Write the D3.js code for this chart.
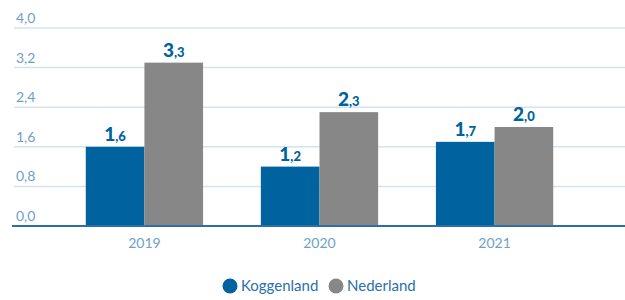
<!DOCTYPE html>
<html>
<head>
<meta charset="utf-8">
<script src="https://cdn.jsdelivr.net/npm/d3@7"></script>
<style>
  body { margin: 0; background: #fff; }
  text { font-family: Lato, "Noto Sans", sans-serif; }
</style>
</head>
<body>
<div id="chart"></div>
<script>
// Data
const years = ["2019", "2020", "2021"];
const series = ["Koggenland", "Nederland"];
const koggenland = [1.6, 1.2, 1.7];
const nederland = [3.3, 2.3, 2.0];
const yTicks = [0, 0.8, 1.6, 2.4, 3.2, 4.0];
const colors = ["#00629e", "#878787"];

const width = 625, height = 300;

const svg = d3.select("#chart")
    .append("svg")
    .attr("width", width)
    .attr("height", height);

// Scales
const x = d3.scaleBand()
    .domain(years)
    .range([14, 625])
    .paddingInner(0.33)
    .paddingOuter(0.41);

const xInner = d3.scaleBand()
    .domain(series)
    .range([0, x.bandwidth()]);

const y = d3.scaleLinear()
    .domain([0, 4])
    .range([226, 28]);

// Gridlines + tick labels
const fmt = v => v.toFixed(1).replace(".", ",");

svg.append("g")
    .selectAll("line")
    .data(yTicks.slice(1))
    .enter()
    .append("line")
    .attr("x1", 14)
    .attr("x2", 625)
    .attr("y1", d => y(d))
    .attr("y2", d => y(d))
    .attr("stroke", "#d3e4ef")
    .attr("stroke-width", 1.5);

svg.append("g")
    .selectAll("text")
    .data(yTicks)
    .enter()
    .append("text")
    .attr("x", 16)
    .attr("y", d => y(d) - 5)
    .attr("fill", "#6d9fc9")
    .attr("font-size", 14)
    .text(fmt);

// Bars
const rows = years.map((yr, i) => ({
    year: yr,
    values: [
        { key: series[0], value: koggenland[i] },
        { key: series[1], value: nederland[i] }
    ]
}));

const groups = svg.selectAll(".grp")
    .data(rows)
    .enter()
    .append("g")
    .attr("class", "grp")
    .attr("transform", d => `translate(${x(d.year)},0)`);

groups.selectAll("rect")
    .data(d => d.values)
    .enter()
    .append("rect")
    .attr("x", d => xInner(d.key))
    .attr("width", xInner.bandwidth())
    .attr("y", d => y(d.value))
    .attr("height", d => y(0) - y(d.value))
    .attr("fill", (d, i) => colors[i]);

// Value labels: big integer part, small decimal part
const labels = groups.selectAll(".val")
    .data(d => d.values)
    .enter()
    .append("text")
    .attr("class", "val")
    .attr("x", d => xInner(d.key) + xInner.bandwidth() / 2)
    .attr("y", d => y(d.value) - 6)
    .attr("text-anchor", "middle")
    .attr("fill", "#00629e")
    .attr("font-weight", 900);

labels.append("tspan")
    .attr("font-size", 19)
    .text(d => fmt(d.value).split(",")[0]);
labels.append("tspan")
    .attr("font-size", 13)
    .text(d => "," + fmt(d.value).split(",")[1]);

// Baseline axis
svg.append("line")
    .attr("x1", 12)
    .attr("x2", 625)
    .attr("y1", y(0))
    .attr("y2", y(0))
    .attr("stroke", "#2a6fab")
    .attr("stroke-width", 2);

// X labels
svg.append("g")
    .selectAll("text")
    .data(years)
    .enter()
    .append("text")
    .attr("x", d => x(d) + x.bandwidth() / 2)
    .attr("y", 248)
    .attr("text-anchor", "middle")
    .attr("fill", "#6d9fc9")
    .attr("font-size", 14)
    .text(d => d);

// Legend
const legendX = [230, 336];
const legend = svg.append("g")
    .selectAll("g")
    .data(series)
    .enter()
    .append("g")
    .attr("transform", (d, i) => `translate(${legendX[i]},286)`);

legend.append("circle")
    .attr("r", 7.5)
    .attr("fill", (d, i) => colors[i]);

legend.append("text")
    .attr("x", 11)
    .attr("y", 5)
    .attr("fill", "#2a6fab")
    .attr("font-size", 15)
    .text(d => d);
</script>
</body>
</html>
